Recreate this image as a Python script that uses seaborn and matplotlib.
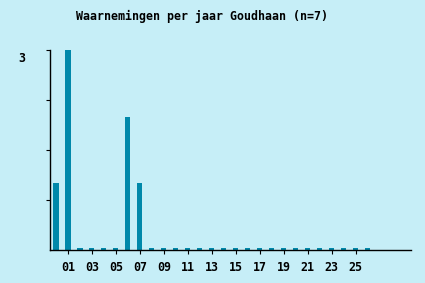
import matplotlib
matplotlib.use("Agg")
import matplotlib.pyplot as plt
import matplotlib.transforms as mtrans
import seaborn as sns
import numpy as np
import pandas as pd

years = [f"{i:02d}" for i in range(0, 27)]
counts = [1, 3, 0, 0, 0, 0, 2, 1] + [0] * 19
tick_years = [f"{i:02d}" for i in range(1, 26, 2)]
y_label_value = 3

BG = "#C6EEF7"
BAR = "#0088AA"

sns.set_theme(style="ticks")
plt.rcParams["font.family"] = ["DejaVu Sans Mono"]
plt.rcParams["font.weight"] = "bold"

fig = plt.figure(figsize=(4.25, 2.83), dpi=100, facecolor=BG)
ax = fig.add_axes([50/425, 33/283, 361/425, 200/283])
ax.set_facecolor(BG)

stub = 0.03
df = pd.DataFrame({"year": years, "count": counts})
df["shown"] = np.maximum(df["count"], stub)
sns.barplot(data=df, x="year", y="shown", order=years, color=BAR,
            saturation=1, width=0.42, ax=ax, linewidth=0, edgecolor=BAR)

ax.set_xlim(-0.5, 29.6)
ax.set_ylim(0, 3)
ax.set_xlabel("")
ax.set_ylabel("")

pos = [years.index(t) for t in tick_years]
ax.set_xticks(pos)
ax.set_xticklabels(tick_years, fontsize=8.4, fontweight="bold", color="black")
ax.tick_params(axis="x", length=3, width=0.8, pad=5, color="black")

ax.set_yticks([0.75, 1.5, 2.25, 3])
ax.set_yticklabels(["", "", "", str(y_label_value)], fontsize=8.4,
                   fontweight="bold", color="black")
ax.tick_params(axis="y", length=3, width=0.8, pad=15, color="black")
for lab in ax.get_yticklabels():
    lab.set_transform(lab.get_transform() + mtrans.ScaledTranslation(0, -7/100, fig.dpi_scale_trans))

for s in ["top", "right"]:
    ax.spines[s].set_visible(False)
for s in ["left", "bottom"]:
    ax.spines[s].set_color("black")
    ax.spines[s].set_linewidth(1.0)

fig.text(202/425, 1 - 16/283, "Waarnemingen per jaar Goudhaan (n=7)",
         ha="center", va="center", fontsize=8.4, fontweight="bold",
         color="black")

fig.savefig("out.png", dpi=100, facecolor=BG)
